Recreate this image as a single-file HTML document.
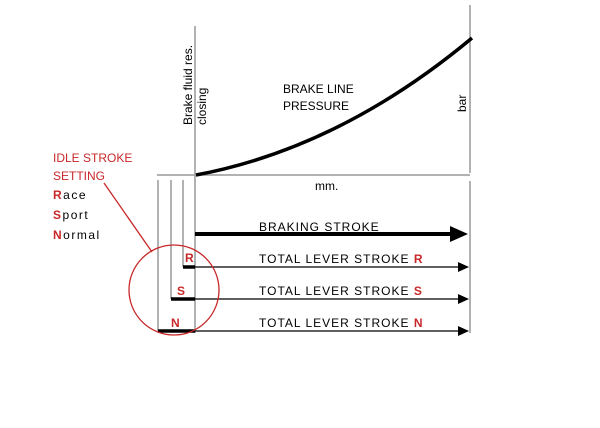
<!DOCTYPE html>
<html><head><style>
body{margin:0;background:#fff;}
svg text{font-family:"Liberation Sans",sans-serif;}
</style></head><body>
<svg width="600" height="423" viewBox="0 0 600 423" xmlns="http://www.w3.org/2000/svg">
<g stroke="#999" stroke-width="1.5" fill="none">
<line x1="195" y1="26" x2="195" y2="333"/>
<line x1="157" y1="175" x2="470" y2="175"/>
<line x1="470" y1="5" x2="470" y2="173"/>
<line x1="470" y1="181" x2="470" y2="333"/>
<line x1="158" y1="180" x2="158" y2="331"/>
<line x1="171" y1="180" x2="171" y2="299"/>
<line x1="183" y1="180" x2="183" y2="267"/>
</g>
<path d="M196,175 Q340,148 472,38" stroke="#000" stroke-width="3.5" fill="none"/>
<g stroke="#000">
<line x1="183" y1="267" x2="195" y2="267" stroke-width="3.5"/>
<line x1="171" y1="299" x2="195" y2="299" stroke-width="3.5"/>
<line x1="158" y1="331" x2="195" y2="331" stroke-width="3.5"/>
<line x1="195" y1="234" x2="452" y2="234" stroke-width="4"/>
<line x1="195" y1="267" x2="460" y2="267" stroke-width="1.3"/>
<line x1="195" y1="299" x2="460" y2="299" stroke-width="1.3"/>
<line x1="195" y1="331" x2="460" y2="331" stroke-width="1.3"/>
</g>
<g fill="#000">
<polygon points="450,226 468,234 450,242"/>
<polygon points="458,262 469,267 458,272"/>
<polygon points="458,294 469,299 458,304"/>
<polygon points="458,326 469,331 458,336"/>
</g>
<g fill="none" stroke="#c8282a" stroke-width="1.3">
<circle cx="174" cy="290" r="45"/>
<line x1="104" y1="183" x2="152" y2="252"/>
</g>
<g font-size="12" fill="#000" letter-spacing="1">
<text x="259" y="231">BRAKING STROKE</text>
<text x="259" y="263">TOTAL LEVER STROKE <tspan fill="#c8282a" font-weight="bold">R</tspan></text>
<text x="259" y="295">TOTAL LEVER STROKE <tspan fill="#c8282a" font-weight="bold">S</tspan></text>
<text x="259" y="327">TOTAL LEVER STROKE <tspan fill="#c8282a" font-weight="bold">N</tspan></text>
</g>
<g font-size="12" fill="#c8282a" font-weight="bold">
<text x="185" y="262">R</text>
<text x="177" y="295">S</text>
<text x="171" y="327">N</text>
</g>
<g font-size="12" fill="#c8282a">
<text x="53" y="162">IDLE STROKE</text>
<text x="53" y="180">SETTING</text>
</g>
<g font-size="12" fill="#000" letter-spacing="1.5">
<text x="53" y="199"><tspan fill="#c8282a" font-weight="bold">R</tspan>ace</text>
<text x="53" y="219"><tspan fill="#c8282a" font-weight="bold">S</tspan>port</text>
<text x="53" y="239"><tspan fill="#c8282a" font-weight="bold">N</tspan>ormal</text>
</g>
<g font-size="12" fill="#000">
<text x="283" y="93">BRAKE LINE</text>
<text x="283" y="110">PRESSURE</text>
<text x="315" y="190">mm.</text>
<text transform="translate(192,125) rotate(-90)">Brake fluid res.</text>
<text transform="translate(206,125) rotate(-90)">closing</text>
<text transform="translate(466,112) rotate(-90)">bar</text>
</g>
</svg>
</body></html>
